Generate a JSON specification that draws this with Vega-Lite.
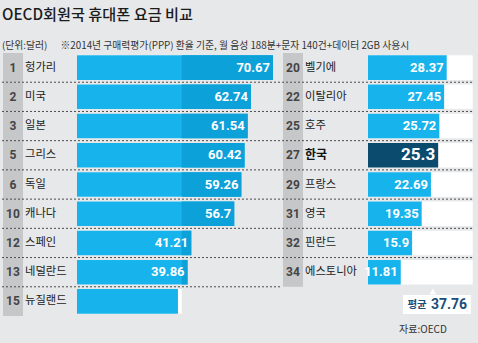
{
  "$schema": "https://vega.github.io/schema/vega-lite/v6.json",
  "autosize": "none",
  "width": 478,
  "height": 263,
  "padding": {"top": 53, "left": 0, "right": 0, "bottom": 27},
  "background": "#e7e8ea",
  "title": {
    "text": "OECD회원국 휴대폰 요금 비교",
    "subtitle": "(단위:달러)\u00a0\u00a0\u00a0\u00a0\u00a0\u00a0※2014년 구매력평가(PPP) 환율 기준, 월 음성 188분+문자 140건+데이터 2GB 사용시",
    "anchor": "start",
    "frame": "group",
    "dx": 2,
    "offset": 2,
    "font": "Noto Sans CJK KR",
    "fontSize": 15.2,
    "fontWeight": 500,
    "color": "#1c1c1c",
    "subtitleFont": "Noto Sans CJK KR",
    "subtitleFontSize": 9.8,
    "subtitleColor": "#333333",
    "subtitlePadding": 18
  },
  "config": {
    "view": {"stroke": null},
    "axis": {"disable": true, "domain": false, "ticks": false, "labels": false, "grid": false, "title": null}
  },
  "datasets": {
    "left": [
      {"row": 1, "rank": 1, "name": "헝가리", "value": 70.67, "labelled": true},
      {"row": 2, "rank": 2, "name": "미국", "value": 62.74, "labelled": true},
      {"row": 3, "rank": 3, "name": "일본", "value": 61.54, "labelled": true},
      {"row": 4, "rank": 5, "name": "그리스", "value": 60.42, "labelled": true},
      {"row": 5, "rank": 6, "name": "독일", "value": 59.26, "labelled": true},
      {"row": 6, "rank": 10, "name": "캐나다", "value": 56.7, "labelled": true},
      {"row": 7, "rank": 12, "name": "스페인", "value": 41.21, "labelled": true},
      {"row": 8, "rank": 13, "name": "네덜란드", "value": 39.86, "labelled": true},
      {"row": 9, "rank": 15, "name": "뉴질랜드", "value": 36.4, "labelled": false}
    ],
    "right": [
      {"row": 1, "rank": 20, "name": "벨기에", "value": 28.37},
      {"row": 2, "rank": 22, "name": "이탈리아", "value": 27.45},
      {"row": 3, "rank": 25, "name": "호주", "value": 25.72},
      {"row": 4, "rank": 27, "name": "한국", "value": 25.3},
      {"row": 5, "rank": 29, "name": "프랑스", "value": 22.69},
      {"row": 6, "rank": 31, "name": "영국", "value": 19.35},
      {"row": 7, "rank": 32, "name": "핀란드", "value": 15.9},
      {"row": 8, "rank": 34, "name": "에스토니아", "value": 11.81}
    ],
    "average": [
      {"row": 9, "label": "평균", "value": 37.76}
    ]
  },
  "encoding": {
    "y": {
      "field": "row",
      "type": "ordinal",
      "axis": null,
      "scale": {"domain": [1, 2, 3, 4, 5, 6, 7, 8, 9], "paddingInner": 0, "paddingOuter": 0}
    }
  },
  "resolve": {"scale": {"x": "independent"}},
  "layer": [
    {
      "data": {"name": "left"},
      "layer": [
        {
          "mark": {"type": "rect", "color": "#c6c7c9"},
          "encoding": {
            "x": {"datum": -26.68, "type": "quantitative", "axis": null,
                  "scale": {"domain": [-27.76, 144.58], "nice": false, "zero": false}},
            "x2": {"datum": -19.47}
          }
        },
        {
          "mark": {"type": "bar", "color": "#ffffff", "height": {"band": 0.84}},
          "encoding": {
            "x": {"datum": 0, "type": "quantitative"},
            "x2": {"datum": 37.76}
          }
        },
        {
          "mark": {"type": "bar", "color": "#16b3ec", "height": {"band": 0.84}},
          "encoding": {
            "x": {"field": "value", "type": "quantitative"},
            "x2": {"datum": 0}
          }
        },
        {
          "transform": [{"filter": "datum.value > 37.76"}],
          "mark": {"type": "bar", "color": "#0da1da", "height": {"band": 0.84}},
          "encoding": {
            "x": {"field": "value", "type": "quantitative"},
            "x2": {"datum": 37.76}
          }
        },
        {
          "transform": [{"filter": "datum.row < 9"}],
          "mark": {"type": "rule", "color": "#4a4a4a", "strokeWidth": 1, "strokeDash": [2, 2]},
          "encoding": {
            "y": {"field": "row", "type": "ordinal", "bandPosition": 1},
            "x": {"datum": -27.04, "type": "quantitative"},
            "x2": {"datum": 73.19}
          }
        },
        {
          "mark": {"type": "text", "align": "center", "baseline": "middle", "font": "Roboto", "fontWeight": "bold", "fontSize": 12, "color": "#444444"},
          "encoding": {
            "x": {"datum": -23.08, "type": "quantitative"},
            "text": {"field": "rank"}
          }
        },
        {
          "mark": {"type": "text", "align": "left", "baseline": "middle", "font": "Noto Sans CJK KR", "fontSize": 11.3, "color": "#222222"},
          "encoding": {
            "x": {"datum": -18.75, "type": "quantitative"},
            "text": {"field": "name"}
          }
        },
        {
          "transform": [{"filter": "datum.labelled"}],
          "mark": {"type": "text", "align": "right", "baseline": "middle", "dx": -3, "font": "Roboto", "fontWeight": "bold", "fontSize": 13, "color": "#ffffff"},
          "encoding": {
            "x": {"field": "value", "type": "quantitative"},
            "text": {"field": "value", "format": ".2~f"}
          }
        }
      ]
    },
    {
      "data": {"name": "right"},
      "layer": [
        {
          "mark": {"type": "rect", "color": "#c6c7c9"},
          "encoding": {
            "x": {"datum": -30.65, "type": "quantitative", "axis": null,
                  "scale": {"domain": [-132.68, 39.66], "nice": false, "zero": false}},
            "x2": {"datum": -23.44}
          }
        },
        {
          "mark": {"type": "bar", "color": "#ffffff", "height": {"band": 0.84}},
          "encoding": {
            "x": {"datum": 0, "type": "quantitative"},
            "x2": {"datum": 37.76}
          }
        },
        {
          "mark": {"type": "bar", "height": {"band": 0.84}},
          "encoding": {
            "x": {"field": "value", "type": "quantitative"},
            "x2": {"datum": 0},
            "color": {
              "condition": {"test": "datum.name === '한국'", "value": "#0b4b6e"},
              "value": "#16b3ec"
            }
          }
        },
        {
          "transform": [{"filter": "datum.row < 8"}],
          "mark": {"type": "rule", "color": "#4a4a4a", "strokeWidth": 1, "strokeDash": [2, 2]},
          "encoding": {
            "y": {"field": "row", "type": "ordinal", "bandPosition": 1},
            "x": {"datum": -31.0, "type": "quantitative"},
            "x2": {"datum": 38.2}
          }
        },
        {
          "mark": {"type": "text", "align": "center", "baseline": "middle", "font": "Roboto", "fontWeight": "bold", "fontSize": 12, "color": "#444444"},
          "encoding": {
            "x": {"datum": -27.04, "type": "quantitative"},
            "text": {"field": "rank"}
          }
        },
        {
          "transform": [{"filter": "datum.name !== '한국'"}],
          "mark": {"type": "text", "align": "left", "baseline": "middle", "font": "Noto Sans CJK KR", "fontSize": 11.3, "color": "#222222"},
          "encoding": {
            "x": {"datum": -22.72, "type": "quantitative"},
            "text": {"field": "name"}
          }
        },
        {
          "transform": [{"filter": "datum.name === '한국'"}],
          "mark": {"type": "text", "align": "left", "baseline": "middle", "font": "Noto Sans CJK KR", "fontSize": 12, "fontWeight": "bold", "color": "#111111"},
          "encoding": {
            "x": {"datum": -22.72, "type": "quantitative"},
            "text": {"field": "name"}
          }
        },
        {
          "mark": {"type": "text", "align": "right", "baseline": "middle", "dx": -3, "font": "Roboto", "fontWeight": "bold", "color": "#ffffff"},
          "encoding": {
            "x": {"field": "value", "type": "quantitative"},
            "text": {"field": "value", "format": ".2~f"},
            "size": {
              "condition": {"test": "datum.name === '한국'", "value": 17},
              "value": 13
            }
          }
        },
        {
          "data": {"name": "average"},
          "mark": {"type": "bar", "color": "#ffffff", "height": 19, "yOffset": 3},
          "encoding": {
            "x": {"datum": 12.6, "type": "quantitative"},
            "x2": {"datum": 37.1}
          }
        },
        {
          "data": {"name": "average"},
          "mark": {"type": "point", "shape": "triangle-up", "filled": true, "color": "#ffffff", "opacity": 1, "size": 45, "yOffset": -10},
          "encoding": {
            "x": {"datum": 23.4, "type": "quantitative"}
          }
        },
        {
          "data": {"name": "average"},
          "mark": {"type": "text", "align": "left", "baseline": "middle", "dy": 4, "font": "Noto Sans CJK KR", "fontSize": 10.5, "fontWeight": "bold", "color": "#1b4f78"},
          "encoding": {
            "x": {"datum": 14.2, "type": "quantitative"},
            "text": {"field": "label"}
          }
        },
        {
          "data": {"name": "average"},
          "mark": {"type": "text", "align": "left", "baseline": "middle", "dy": 3.5, "font": "Roboto", "fontSize": 14, "fontWeight": "bold", "color": "#1b4f78"},
          "encoding": {
            "x": {"datum": 22.7, "type": "quantitative"},
            "text": {"field": "value", "format": ".2f"}
          }
        },
        {
          "data": {"name": "average"},
          "mark": {"type": "text", "align": "left", "baseline": "middle", "dy": 29, "font": "Noto Sans CJK KR", "fontSize": 10, "color": "#333333", "text": "자료:OECD"},
          "encoding": {
            "x": {"datum": 11.2, "type": "quantitative"}
          }
        }
      ]
    }
  ]
}
